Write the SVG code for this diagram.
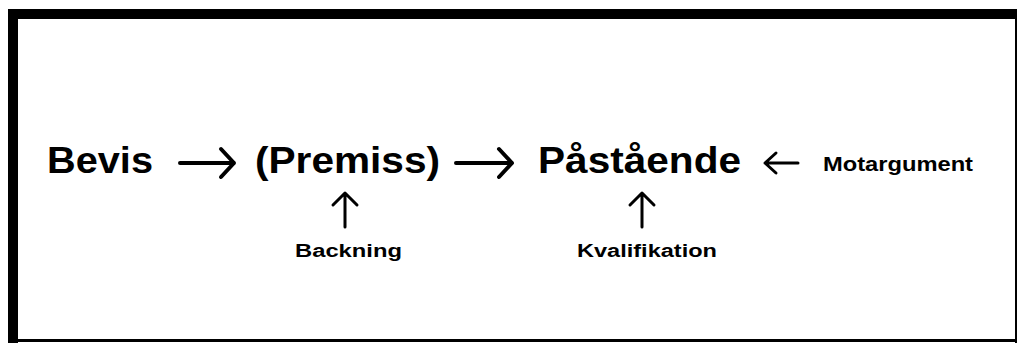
<svg xmlns="http://www.w3.org/2000/svg" width="1020" height="343" viewBox="0 0 1020 343">
<style>
.big{font-family:"Liberation Sans",Arial,sans-serif;font-weight:bold;font-size:36px;fill:#000}
.small{font-family:"Liberation Sans",Arial,sans-serif;font-weight:bold;fill:#000}
.arr{fill:none;stroke:#000;stroke-linecap:round;stroke-linejoin:round}
</style>
<rect width="1020" height="343" fill="#fff"/>
<g id="frame" fill="#000">
<rect x="8" y="9" width="1009" height="10"/>
<rect x="8" y="9" width="10" height="334"/>
<rect x="1015" y="9" width="2" height="334"/>
<rect x="8" y="339" width="1009" height="3"/>
</g>
<g id="bevis"><text class="big" x="47" y="173" textLength="106" lengthAdjust="spacingAndGlyphs">Bevis</text></g>
<g id="premiss"><text class="big" x="255" y="173" textLength="185" lengthAdjust="spacingAndGlyphs">(Premiss)</text></g>
<g id="pastaende"><text class="big" x="538" y="173" textLength="203" lengthAdjust="spacingAndGlyphs">Påstående</text></g>
<g id="motargument"><text class="small" x="823" y="171" font-size="20" textLength="150" lengthAdjust="spacingAndGlyphs">Motargument</text></g>
<g id="backning"><text class="small" x="295" y="257" font-size="18" textLength="107" lengthAdjust="spacingAndGlyphs">Backning</text></g>
<g id="kvalifikation"><text class="small" x="577" y="257" font-size="18" textLength="140" lengthAdjust="spacingAndGlyphs">Kvalifikation</text></g>
<g id="connectors">
<g class="arr" stroke-width="4">
<path d="M180 163 H234 M221 149 L234 163 L221 177"/>
<path d="M456 163 H512 M499 149 L512 163 L499 177"/>
</g>
<g class="arr" stroke-width="3">
<path d="M798 163 H765 M776 153 L765 163 L776 173"/>
<path d="M345 227 V193 M333 205 L345 193 L357 205"/>
<path d="M642 227 V193 M630 205 L642 193 L654 205"/>
</g>
</g>
</svg>
